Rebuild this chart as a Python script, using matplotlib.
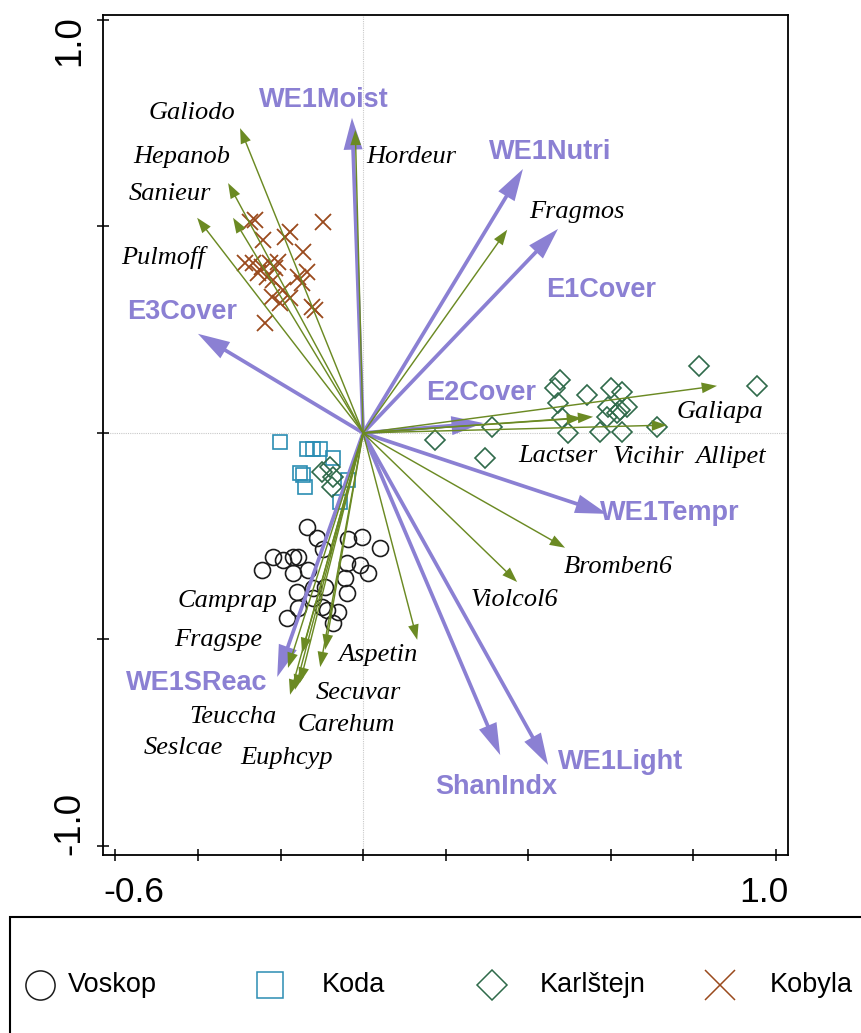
import matplotlib
matplotlib.use("Agg")
import matplotlib.pyplot as plt
from matplotlib import font_manager
from matplotlib.lines import Line2D
from matplotlib.patches import Rectangle
import numpy as np

# ---------------- data ----------------
env_names = ["WE1Moist", "WE1Nutri", "E1Cover", "E3Cover", "E2Cover",
             "WE1Tempr", "WE1Light", "ShanIndx", "WE1SReac"]
env_x = [-0.027, 0.387, 0.472, -0.400, 0.291, 0.591, 0.448, 0.332, -0.208]
env_y = [0.763, 0.639, 0.494, 0.240, 0.024, -0.196, -0.804, -0.780, -0.591]
env_lab_x = [-0.094, 0.453, 0.576, -0.438, 0.286, 0.743, 0.623, 0.322, -0.404]
env_lab_y = [0.806, 0.680, 0.346, 0.293, 0.097, -0.194, -0.797, -0.857, -0.605]

spe_names = ["Galiodo", "Hepanob", "Sanieur", "Pulmoff", "Hordeur", "Fragmos",
             "Galiapa", "Lactser", "Vicihir", "Allipet", "Bromben6", "Violcol6",
             "Aspetin", "Camprap", "Fragspe", "Teuccha", "Seslcae", "Euphcyp",
             "Carehum", "Secuvar"]
spe_x = [-0.298, -0.327, -0.315, -0.402, -0.019, 0.349, 0.857, 0.530, 0.557,
         0.736, 0.489, 0.373, 0.131, -0.148, -0.182, -0.153, -0.177, -0.165,
         -0.104, -0.092]
spe_y = [0.738, 0.605, 0.521, 0.521, 0.734, 0.492, 0.114, 0.036, 0.039, 0.019,
         -0.278, -0.361, -0.501, -0.533, -0.569, -0.605, -0.634, -0.622,
         -0.567, -0.525]
spe_lab_x = [-0.414, -0.438, -0.467, -0.484, 0.116, 0.518, 0.864, 0.472, 0.690,
             0.891, 0.617, 0.366, 0.036, -0.329, -0.351, -0.315, -0.436, -0.186,
             -0.041, -0.012]
spe_lab_y = [0.775, 0.668, 0.579, 0.426, 0.668, 0.535, 0.051, -0.056, -0.058,
             -0.058, -0.324, -0.404, -0.538, -0.407, -0.501, -0.688, -0.763,
             -0.787, -0.707, -0.630]

voskop_x = [-0.136, -0.111, -0.097, -0.036, -0.002, 0.041, -0.218, -0.194, -0.169,
            -0.157, -0.245, -0.169, -0.133, -0.039, -0.007, 0.012, -0.044, -0.092,
            -0.160, -0.121, -0.039, -0.121, -0.157, -0.099, -0.087, -0.061, -0.184,
            -0.073]
voskop_y = [-0.228, -0.254, -0.281, -0.257, -0.252, -0.278, -0.300, -0.308, -0.300,
            -0.300, -0.332, -0.339, -0.332, -0.315, -0.320, -0.339, -0.351, -0.373,
            -0.385, -0.375, -0.387, -0.400, -0.424, -0.421, -0.429, -0.433, -0.448,
            -0.460]

koda_x = [-0.201, -0.136, -0.121, -0.104, -0.073, -0.153, -0.145, -0.140, -0.036, -0.056]
koda_y = [-0.022, -0.039, -0.039, -0.039, -0.061, -0.097, -0.102, -0.131, -0.114, -0.167]

karl_x = [0.814, 0.954, 0.477, 0.465, 0.542, 0.600, 0.627, 0.472, 0.593, 0.622,
          0.639, 0.482, 0.591, 0.615, 0.312, 0.496, 0.574, 0.627, 0.712, 0.174,
          0.295, -0.099, -0.080, -0.073, -0.075]
karl_y = [0.162, 0.114, 0.128, 0.109, 0.092, 0.109, 0.099, 0.073, 0.063, 0.056,
          0.063, 0.036, 0.039, 0.048, 0.015, 0.000, 0.002, 0.002, 0.015, -0.017,
          -0.061, -0.094, -0.082, -0.107, -0.131]

kobyla_x = [-0.274, -0.262, -0.097, -0.177, -0.189, -0.145, -0.242, -0.266, -0.245,
            -0.225, -0.213, -0.206, -0.232, -0.218, -0.157, -0.148, -0.136, -0.194,
            -0.220, -0.201, -0.177, -0.116, -0.123, -0.237, -0.286, -0.254]
kobyla_y = [0.511, 0.516, 0.511, 0.487, 0.475, 0.438, 0.467, 0.412, 0.402, 0.412,
            0.400, 0.414, 0.378, 0.370, 0.378, 0.363, 0.390, 0.346, 0.329, 0.315,
            0.327, 0.298, 0.305, 0.266, 0.412, 0.387]

group_names = ["Voskop", "Koda", "Karlštejn", "Kobyla"]
xtick_labels = ["-0.6", "1.0"]
ytick_labels = ["1.0", "-1.0"]

# ---------------- style ----------------
PURPLE = "#8b80d3"
OLIVE = "#6b8a23"
C_VOSKOP = "#1c1c1c"
C_KODA = "#2b8db3"
C_KARL = "#2f6a4a"
C_KOBYLA = "#9a4a1d"

names = {f.name for f in font_manager.fontManager.ttflist}
if "Liberation Sans Narrow" in names:
    NARROW, nscale = "Liberation Sans Narrow", 1.0
else:
    NARROW, nscale = "Liberation Sans", 0.85
SERIF = "Liberation Serif"
SANS = "Liberation Sans"

W, H = 861, 1033
fig = plt.figure(figsize=(W / 100, H / 100), dpi=100)
ax = fig.add_axes([103 / W, 1 - 855 / H, 685 / W, 840 / H])
ax.set_xlim(-0.630, 1.029)
ax.set_ylim(-1.022, 1.012)

for s in ax.spines.values():
    s.set_linewidth(1.3)
ax.set_xticks(np.arange(-0.6, 1.001, 0.2))
ax.set_yticks([-1.0, -0.5, 0.0, 0.5, 1.0])
ax.set_xticklabels([])
ax.set_yticklabels([])
ax.tick_params(direction="inout", length=9, width=1.1)

ax.axhline(0, color="#c9c9c9", lw=0.8, ls=(0, (1, 1)), zorder=0)
ax.axvline(0, color="#c9c9c9", lw=0.8, ls=(0, (1, 1)), zorder=0)

# sample points
ax.plot(voskop_x, voskop_y, ls="none", marker="o", ms=11.5, mfc="none",
        mec=C_VOSKOP, mew=1.2, zorder=2)
ax.plot(koda_x, koda_y, ls="none", marker="s", ms=10.5, mfc="none",
        mec=C_KODA, mew=1.2, zorder=2)
ax.plot(karl_x, karl_y, ls="none", marker="D", ms=10.5, mfc="none",
        mec=C_KARL, mew=1.2, zorder=2)
ax.plot(kobyla_x, kobyla_y, ls="none", marker="x", ms=12, mfc="none",
        mec=C_KOBYLA, mew=1.3, zorder=2)

# environmental arrows
for x, y in zip(env_x, env_y):
    ax.arrow(0, 0, x, y, width=0.009, head_width=0.046, head_length=0.077,
             length_includes_head=True, fc=PURPLE, ec="none", zorder=3)
for n, x, y in zip(env_names, env_lab_x, env_lab_y):
    ax.text(x, y, n, color=PURPLE, fontsize=19.5, fontweight="bold",
            family=SANS, ha="center", va="center", zorder=5)

# species arrows
for x, y in zip(spe_x, spe_y):
    ax.arrow(0, 0, x, y, width=0.0035, head_width=0.026, head_length=0.037,
             length_includes_head=True, fc=OLIVE, ec="none", zorder=4)
for n, x, y in zip(spe_names, spe_lab_x, spe_lab_y):
    ax.text(x, y, n, color="black", fontsize=19, style="italic",
            family=SERIF, ha="center", va="center", zorder=5)

# axis end labels
ax.text(0.0, -0.025, xtick_labels[0], transform=ax.transAxes, ha="left", va="top",
        fontsize=30 * nscale, family=NARROW)
ax.text(1.0, -0.025, xtick_labels[1], transform=ax.transAxes, ha="right", va="top",
        fontsize=30 * nscale, family=NARROW)
ax.text(-0.048, 1.0, ytick_labels[0], transform=ax.transAxes, ha="center", va="top",
        rotation=90, fontsize=31 * nscale, family=NARROW)
ax.text(-0.048, 0.0, ytick_labels[1], transform=ax.transAxes, ha="center", va="bottom",
        rotation=90, fontsize=31 * nscale, family=NARROW)

# legend box (extends past the figure edges)
fig.add_artist(Rectangle((10 / W, -0.1), 1.2, 0.1 + (1 - 917 / H),
                         transform=fig.transFigure, fill=False, ec="black", lw=1.5))
leg_y = 1 - 985 / H
marker_px = [40, 270, 492, 720]
text_px = [68, 322, 540, 770]
leg_style = [dict(marker="o", ms=21, mec=C_VOSKOP),
             dict(marker="s", ms=19, mec=C_KODA),
             dict(marker="D", ms=15, mec=C_KARL),
             dict(marker="x", ms=21, mec=C_KOBYLA)]
for name, mx, tx, st in zip(group_names, marker_px, text_px, leg_style):
    fig.add_artist(Line2D([mx / W], [leg_y], transform=fig.transFigure, ls="none",
                          mfc="none", mew=1.1, **st))
    fig.text(tx / W, leg_y, name, ha="left", va="center", fontsize=23 * nscale,
             family=NARROW)

fig.savefig("out.png", dpi=100)
